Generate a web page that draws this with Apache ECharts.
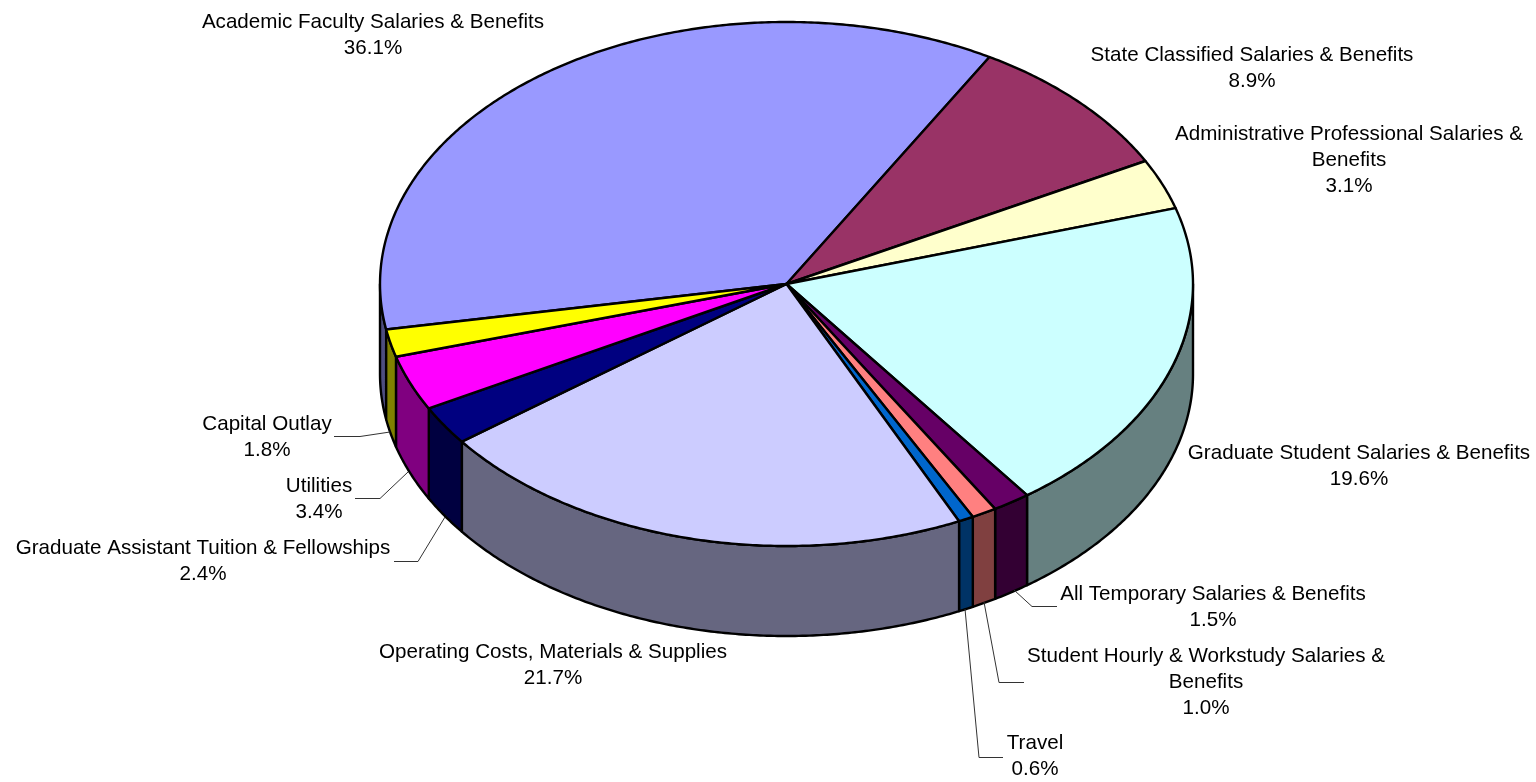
<!DOCTYPE html>
<html><head><meta charset="utf-8">
<script src="https://cdn.jsdelivr.net/npm/echarts@6/dist/echarts.min.js"></script>
<style>html,body{margin:0;padding:0;background:#fff}#c{width:1536px;height:782px}</style>
</head><body><div id="c"></div>
<script>
var categories = ['Academic Faculty Salaries & Benefits','State Classified Salaries & Benefits','Administrative Professional Salaries &\nBenefits','Graduate Student Salaries & Benefits','All Temporary Salaries & Benefits','Student Hourly & Workstudy Salaries &\nBenefits','Travel','Operating Costs, Materials & Supplies','Graduate Assistant Tuition & Fellowships','Utilities','Capital Outlay'];
var shares = [36.1,8.9,3.1,19.6,1.5,1.0,0.6,21.7,2.4,3.4,1.8];
var topColors = ['#9999FF','#993366','#FFFFCC','#CCFFFF','#660066','#FF8080','#0066CC','#CCCCFF','#000080','#FF00FF','#FFFF00'];
var sideColors = ['#4D4D80','#4D1A33','#808066','#668080','#330033','#804040','#003366','#666680','#000040','#800080','#808000'];
var labelCenters = [[373,35],[1252,68],[1349,160],[1359,466],[1213,607],[1206,682],[1035,756],[553,665],[203,561],[319,499],[267,437]];
var leaderLines = [null,null,null,null,[[1057,606.5],[1032,606.5],[1014,590]],[[1024,682.5],[999,682.5],[984,602]],[[1003,757.5],[979,757.5],[965,609]],null,[[394,561.5],[418,561.5],[445,517]],[[355,498.5],[380,498.5],[408,472]],[[334,436.5],[360,436.5],[390,432]]];
var startAngle = 260, depth = 90 / 262;

var run = 0;
var sliceData = shares.map(function(v,i){
  var a0 = startAngle + run*3.6; run += v;
  return [i, a0, Math.min(startAngle + run*3.6, startAngle + 360)];
});
function pt(deg, drop){ var r = deg*Math.PI/180; return [Math.sin(r), Math.cos(r) - (drop||0)]; }
function arc(a0,a1,drop){ var n = Math.max(2,Math.ceil(Math.abs(a1-a0)/0.5)), o=[];
  for(var k=0;k<=n;k++) o.push(pt(a0+(a1-a0)*k/n,drop)); return o; }

function renderTop(params, api){
  var i = api.value(0);
  var pts = [[0,0]].concat(arc(api.value(1),api.value(2))).map(function(p){return api.coord(p);});
  return {type:'polygon',shape:{points:pts},style:{fill:topColors[i],stroke:'#000',lineWidth:2.4,lineJoin:'round'}};
}
function renderSide(params, api){
  var i = api.value(0), a0 = api.value(1), a1 = api.value(2), kids = [];
  [[90,270],[450,630]].forEach(function(w){
    var s = Math.max(a0,w[0]), e = Math.min(a1,w[1]);
    if(s<e){
      var pts = arc(s,e).concat(arc(e,s,depth)).map(function(p){return api.coord(p);});
      kids.push({type:'polygon',shape:{points:pts},style:{fill:sideColors[i],stroke:'#000',lineWidth:2.4,lineJoin:'round'}});
    }
  });
  return {type:'group',children:kids};
}
function renderLabel(params, api){
  var i = api.value(0), c = labelCenters[i], kids = [];
  if(leaderLines[i]) kids.push({type:'polyline',shape:{points:leaderLines[i]},style:{fill:null,stroke:'#333',lineWidth:1}});
  kids.push({type:'text',style:{x:c[0],y:c[1],text:categories[i]+'\n'+shares[i].toFixed(1)+'%',align:'center',verticalAlign:'middle',fill:'#000',font:'20.6px "Liberation Sans"',lineHeight:26}});
  return {type:'group',children:kids};
}
var chart = echarts.init(document.getElementById('c'),null,{renderer:'canvas'});
chart.setOption({
  animation:false,
  backgroundColor:'#fff',
  grid:{left:380,top:22,width:813,height:524,containLabel:false},
  xAxis:{type:'value',min:-1,max:1,show:false},
  yAxis:{type:'value',min:-1,max:1,show:false},
  tooltip:{show:false},
  series:[
    {type:'custom',coordinateSystem:'cartesian2d',renderItem:renderSide,data:sliceData,clip:false,silent:true,z:1},
    {type:'custom',coordinateSystem:'cartesian2d',renderItem:renderTop,data:sliceData,clip:false,silent:true,z:2},
    {type:'custom',coordinateSystem:'cartesian2d',renderItem:renderLabel,data:sliceData,clip:false,silent:true,z:3}
  ]
});
</script></body></html>
